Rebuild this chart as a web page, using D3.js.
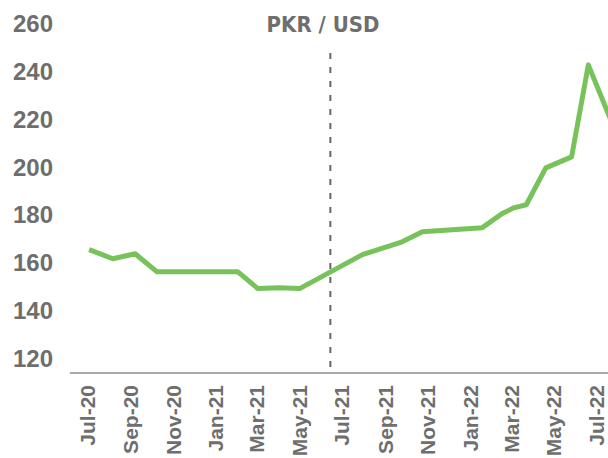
<!DOCTYPE html>
<html>
<head>
<meta charset="utf-8">
<script src="https://cdn.jsdelivr.net/npm/d3@7"></script>
<style>
  body { margin: 0; background: #fff; }
  svg { display: block; font-family: "Liberation Sans Narrow", "DejaVu Sans Condensed", sans-serif; }
</style>
</head>
<body>
<svg id="chart"></svg>
<script>
// data
const dates = [
  "2020-07-04", "2020-08-07", "2020-09-08", "2020-10-09", "2021-02-02",
  "2021-03-03", "2021-04-03", "2021-05-02", "2021-07-31", "2021-09-26",
  "2021-10-25", "2022-01-19", "2022-02-16", "2022-03-05", "2022-03-23",
  "2022-04-20", "2022-05-27", "2022-06-20", "2022-07-25",
]
const rates = [
  165.6, 161.8, 163.9, 156.4, 156.4,
  149.3, 149.7, 149.3, 163.5, 168.9,
  173.1, 174.8, 180.6, 183.1, 184.4,
  199.8, 204.4, 242.9, 217.8,
]
const yTicks = [120, 140, 160, 180, 200, 220, 240, 260]
const xTickStart = "2020-07-01"
const xTickEnd = "2022-07-01"
const dividerDate = "2021-06-15"
const title = "PKR / USD"

const drawGraph = () => {
  const dateParser = d3.timeParse("%Y-%m-%d")
  const data = dates.map((d, i) => ({ date: dateParser(d), rate: rates[i] }))
  const xAccessor = (d) => d.date
  const yAccessor = (d) => d.rate

  const dimensions = {
    width: 608,
    height: 458,
    margin: { top: 24, left: 70, bottom: 85 },
  }
  const axisY = dimensions.height - dimensions.margin.bottom

  const wrapper = d3
    .select("#chart")
    .attr("width", dimensions.width)
    .attr("height", dimensions.height)

  // scales
  const xScale = d3
    .scaleTime()
    .domain([dateParser(xTickStart), dateParser(xTickEnd)])
    .range([87, 596])

  const yScale = d3
    .scaleLinear()
    .domain([114, 260])
    .range([axisY, dimensions.margin.top])

  // title
  wrapper
    .append("text")
    .attr("x", 323)
    .attr("y", 32)
    .attr("text-anchor", "middle")
    .attr("fill", "#6e6e6e")
    .style("font-size", "22px")
    .style("font-weight", "bold")
    .text(title)

  // y axis labels
  const yAxis = wrapper
    .append("g")
    .attr("transform", `translate(${dimensions.margin.left}, 0)`)
    .call(d3.axisLeft(yScale).tickValues(yTicks).tickSize(0).tickPadding(17))
  yAxis.select(".domain").remove()
  yAxis
    .selectAll("text")
    .attr("fill", "#6e6e6e")
    .style("font-size", "24px")
    .style("font-weight", "bold")

  // x axis
  const xAxis = wrapper
    .append("g")
    .attr("transform", `translate(0, ${axisY})`)
    .call(
      d3
        .axisBottom(xScale)
        .ticks(d3.timeMonth.every(2))
        .tickFormat(d3.timeFormat("%b-%y"))
        .tickSize(0)
    )
  xAxis.select(".domain").remove()
  xAxis
    .selectAll("text")
    .attr("transform", "rotate(-90)")
    .attr("text-anchor", "end")
    .attr("x", -12)
    .attr("y", 0)
    .attr("dy", "0.35em")
    .attr("fill", "#6e6e6e")
    .style("font-size", "21px")
    .style("font-weight", "bold")

  wrapper
    .append("line")
    .attr("x1", dimensions.margin.left)
    .attr("x2", dimensions.width)
    .attr("y1", axisY)
    .attr("y2", axisY)
    .attr("stroke", "#8c8c8c")
    .attr("stroke-width", 1.5)

  // divider
  const divX = xScale(dateParser(dividerDate))
  wrapper
    .append("line")
    .attr("x1", divX)
    .attr("x2", divX)
    .attr("y1", 53)
    .attr("y2", axisY)
    .attr("stroke", "#666")
    .attr("stroke-width", 2)
    .attr("stroke-dasharray", "6,8")

  // line
  const lineGenerator = d3
    .line()
    .x((d) => xScale(xAccessor(d)))
    .y((d) => yScale(yAccessor(d)))

  wrapper
    .append("path")
    .attr("d", lineGenerator(data))
    .attr("fill", "none")
    .attr("stroke", "#77c25a")
    .attr("stroke-width", 5)
    .attr("stroke-linejoin", "round")
}

drawGraph()
</script>
</body>
</html>
